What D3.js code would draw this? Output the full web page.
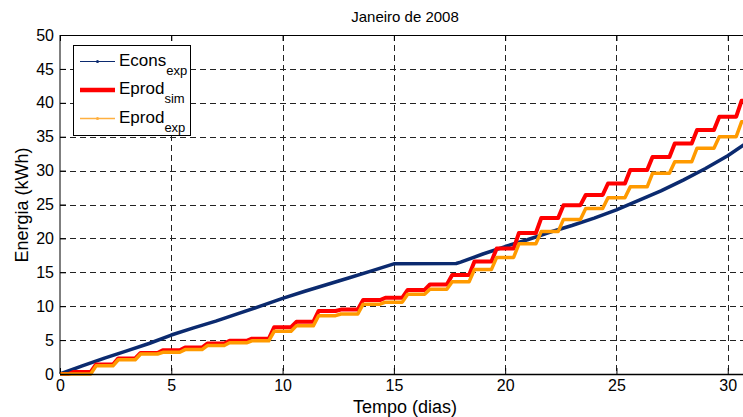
<!DOCTYPE html>
<html><head><meta charset="utf-8">
<script src="https://cdn.jsdelivr.net/npm/d3@7"></script>
<style>
html,body{margin:0;padding:0;background:#fff;}
svg{display:block;font-family:"Liberation Sans",Arial,sans-serif;}
</style></head>
<body><svg id="chart" width="743" height="417"></svg>
<script>
// ---- data ----
const title = "Janeiro de 2008";
const xTicks = [0, 5, 10, 15, 20, 25, 30];
const yTicks = [0, 5, 10, 15, 20, 25, 30, 35, 40, 45, 50];
const prodDays = [0,1,2,3,4,5,6,7,8,9,10,11,12,13,14,15,16,17,18,19,20,21,22,23,24,25,26,27,28,29,30,31];
const eprodSim = [0,0.3,1.4,2.3,3.1,3.5,3.9,4.5,4.9,5.2,6.9,7.7,9.3,9.5,10.9,11.25,12.4,13.2,14.6,16.6,18.5,20.8,23.0,24.9,26.4,28.1,30.1,32.0,34.0,36.0,37.95,40.3];
const eprodExp = [0,0,1.2,2.1,2.95,3.2,3.6,4.2,4.6,4.9,6.3,7.1,8.6,8.85,10.3,10.6,11.75,12.5,13.6,15.4,17.2,19.2,21.0,22.8,24.4,26.0,27.6,29.6,31.3,33.3,35.0,37.2];
const econsDays = [0,1,2,3,4,5,6,7,8,9,10,11,12,13,14,15,17.8,18,19,20,21,22,23,24,25,26,27,28,29,30,31];
const econsExp = [0,1.2,2.35,3.4,4.5,5.75,6.8,7.8,8.9,10.0,11.15,12.2,13.2,14.2,15.2,16.25,16.3,16.5,17.7,18.8,19.8,20.9,21.9,23.0,24.2,25.6,27.0,28.6,30.3,32.2,34.4];

// ---- layout ----
const svg = d3.select("#chart");
const L = 60, T = 35, B = 374, R = 750;
const x = d3.scaleLinear().domain([0, 31]).range([L, R]);
const y = d3.scaleLinear().domain([0, 50]).range([B, T]);
const font = '"Liberation Sans",Arial,sans-serif';

// grid
const grid = svg.append("g").attr("stroke", "#222").attr("stroke-width", 1).attr("stroke-dasharray", "6,4");
grid.selectAll(".gx").data(xTicks.filter(d => d > 0)).join("line")
  .attr("x1", d => Math.round(x(d)) + 0.5).attr("x2", d => Math.round(x(d)) + 0.5)
  .attr("y1", T).attr("y2", B);
grid.selectAll(".gy").data(yTicks.filter(d => d > 0 && d < 50)).join("line")
  .attr("y1", d => Math.round(y(d)) + 0.5).attr("y2", d => Math.round(y(d)) + 0.5)
  .attr("x1", L).attr("x2", R);

// axes (MATLAB style: inward ticks)
const xAxis = d3.axisBottom(x).tickValues(xTicks).tickSizeInner(-6).tickSizeOuter(0).tickPadding(6);
const yAxis = d3.axisLeft(y).tickValues(yTicks).tickSizeInner(-6).tickSizeOuter(0).tickPadding(6);
const gx = svg.append("g").attr("transform", `translate(0,${B})`).call(xAxis);
const gy = svg.append("g").attr("transform", `translate(${L},0)`).call(yAxis);
const gxt = svg.append("g").attr("transform", `translate(0,${T})`).call(d3.axisTop(x).tickValues(xTicks).tickSizeInner(-6).tickSizeOuter(0).tickFormat(""));
[gx, gy, gxt].forEach(g => {
  g.selectAll("path.domain").remove();
  g.selectAll("line").attr("stroke", "#000");
  g.selectAll("text").attr("font-family", font).attr("font-size", 16).attr("fill", "#000");
});

// series
function slantStep(context) {
  let x0, y0, i;
  return {
    areaStart(){}, areaEnd(){},
    lineStart(){ i = 0; },
    lineEnd(){},
    point(px, py) {
      if (i === 0) { context.moveTo(px, py); }
      else {
        const w = px - x0, m1 = x0 + w * 0.38, m2 = x0 + w * 0.62;
        context.lineTo(m1, y0); context.lineTo(m2, py); context.lineTo(px, py);
      }
      x0 = px; y0 = py; i++;
    }
  };
}
const lineLin = d3.line().x(d => x(d[0])).y(d => y(d[1]));
const lineStep = d3.line().x(d => x(d[0])).y(d => y(d[1])).curve(slantStep);

svg.append("path").datum(d3.zip(econsDays, econsExp)).attr("d", lineLin)
  .attr("fill", "none").attr("stroke", "#0b2a6f").attr("stroke-width", 3.5).attr("stroke-linejoin", "round");
svg.append("path").datum(d3.zip(prodDays, eprodSim)).attr("d", lineStep)
  .attr("fill", "none").attr("stroke", "#ff0000").attr("stroke-width", 4).attr("stroke-linejoin", "round");
svg.append("path").datum(d3.zip(prodDays, eprodExp)).attr("d", lineStep)
  .attr("fill", "none").attr("stroke", "#ff9a00").attr("stroke-width", 3.5).attr("stroke-linejoin", "round");

// box
svg.append("line").attr("x1", L).attr("x2", L).attr("y1", T).attr("y2", B).attr("stroke", "#000");
svg.append("line").attr("x1", L).attr("x2", R).attr("y1", T + 0.5).attr("y2", T + 0.5).attr("stroke", "#000");
svg.append("line").attr("x1", L).attr("x2", R).attr("y1", B + 0.5).attr("y2", B + 0.5).attr("stroke", "#000").attr("stroke-width", 1.5);

// labels
svg.append("text").attr("x", 405).attr("y", 22).attr("text-anchor", "middle")
  .attr("font-family", font).attr("font-size", 15).text(title);
svg.append("text").attr("x", 405).attr("y", 413).attr("text-anchor", "middle")
  .attr("font-family", font).attr("font-size", 18).text("Tempo (dias)");
svg.append("text").attr("transform", "translate(28,205) rotate(-90)").attr("text-anchor", "middle")
  .attr("font-family", font).attr("font-size", 18).text("Energia (kWh)");

// legend
const legendNames = ["Econs", "Eprod", "Eprod"];
const legendSubs = ["exp", "sim", "exp"];
const legendColors = ["#0b2a6f", "#ff0000", "#ffb040"];
const legendWidths = [1.2, 4.5, 1.5];
const legendMarker = [true, false, true];
const lg = svg.append("g");
lg.append("rect").attr("x", 73.5).attr("y", 45.5).attr("width", 117).attr("height", 90)
  .attr("fill", "#fff").attr("stroke", "#000");
const rowsY = [61.5, 90, 118.5];
legendNames.forEach((n, i) => {
  const yy = rowsY[i];
  lg.append("line").attr("x1", 80).attr("x2", 115).attr("y1", yy).attr("y2", yy)
    .attr("stroke", legendColors[i]).attr("stroke-width", legendWidths[i]);
  if (legendMarker[i]) lg.append("circle").attr("cx", 97.5).attr("cy", yy).attr("r", 1.5).attr("fill", legendColors[i]);
  const t = lg.append("text").attr("x", 119).attr("y", yy + 4).attr("font-family", font).attr("font-size", 17);
  t.append("tspan").text(n);
  t.append("tspan").attr("dy", 9).attr("font-size", 13).text(legendSubs[i]);
});
</script>
</body></html>
